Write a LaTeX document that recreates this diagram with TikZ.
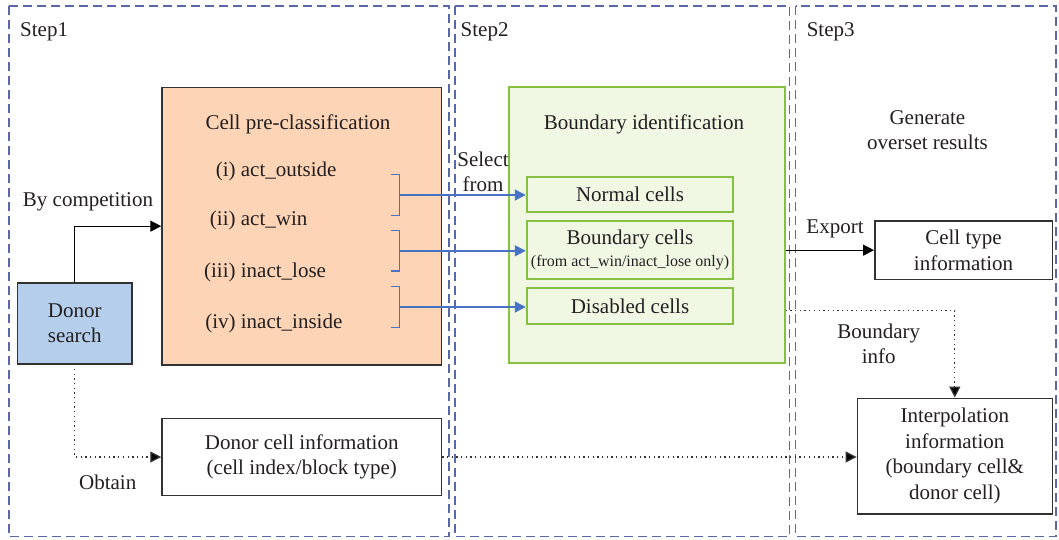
\documentclass[tikz,border=0pt]{standalone}
\usepackage{fontspec}
\setmainfont{Liberation Serif}
\usetikzlibrary{arrows.meta,calc}
\definecolor{frameblue}{RGB}{88,104,170}
\definecolor{peach}{RGB}{253,213,182}
\definecolor{donorblue}{RGB}{180,206,235}
\definecolor{greenfill}{RGB}{240,248,228}
\definecolor{greenline}{RGB}{134,192,64}
\definecolor{arrowblue}{RGB}{72,114,196}
\definecolor{boxline}{RGB}{50,50,50}
\definecolor{txt}{RGB}{35,31,32}
\begin{document}
\begin{tikzpicture}[x=1pt,y=-1pt,
  every node/.style={font=\fontsize{21}{25.5}\selectfont, text=txt, inner sep=0pt},
  stepframe/.style={draw=frameblue, line width=1.3pt, dash pattern=on 9pt off 5pt},
  plainbox/.style={draw=boxline, line width=1.5pt, fill=white, align=center},
  peachbox/.style={draw=boxline, line width=1.5pt, fill=peach},
  donorbox/.style={draw=boxline, line width=1.5pt, fill=donorblue, align=center},
  greenbox/.style={draw=greenline, line width=1.8pt, fill=greenfill, align=center},
  lbl/.style={align=center},
  blkarrow/.style={draw=black, line width=1.3pt, -{Triangle[length=11pt,width=11pt]}},
  dotline/.style={draw=boxline, line width=1.3pt, dash pattern=on 1.3pt off 3.4pt},
  dotarrow/.style={dotline, -{Triangle[length=11pt,width=11pt,fill=black]}},
  bluearrow/.style={draw=arrowblue, line width=1.4pt, -{Triangle[length=11pt,width=11pt]}},
  bracket/.style={draw=arrowblue, line width=1.4pt}
]
\useasboundingbox (0,0) rectangle (1059,539);
% step frames
\draw[stepframe] (9,6) rectangle (449,536.7);
\draw[stepframe] (455,6) rectangle (789.8,536.7);
\draw[stepframe] (795.5,6) rectangle (1056,536.7);
\node[anchor=west] (s1) at (20,32) {Step1};
\node[anchor=west] (s2) at (460.5,32) {Step2};
\node[anchor=west] (s3) at (806.6,32) {Step3};

% step 1
\node[peachbox, minimum width=279.5pt, minimum height=277.7pt] (pre) at (301.75,226.15) {};
\node (pretitle) at (298,124) {Cell pre-classification};
\node[anchor=west] (i1) at (240.7,171.7) {\llap{(i)\ }act\_outside};
\node[anchor=west] (i2) at (240.7,220.7) {\llap{(ii)\ }act\_win};
\node[anchor=west] (i3) at (240.7,272) {\llap{(iii)\ }inact\_lose};
\node[anchor=west] (i4) at (240.7,323.3) {\llap{(iv)\ }inact\_inside};

\node[donorbox, minimum width=114.2pt, minimum height=81.3pt] (donor) at (74.7,323.4) {Donor\\search};
\node[plainbox, minimum width=279.5pt, minimum height=77.4pt] (dinfo) at (301.75,457) {Donor cell information\\(cell index/block type)};
\node (bycomp) at (88,201.7) {By competition};
\node (obtain) at (107.7,482.3) {Obtain};

% step 2
\node[greenbox, minimum width=275.7pt, minimum height=276.6pt] (green) at (646.85,225) {};
\node (gtitle) at (644,124) {Boundary identification};
\node[greenbox, minimum width=206.7pt, minimum height=35.6pt] (normal) at (630,194.5) {Normal cells};
\node[greenbox, minimum width=206.7pt, minimum height=58pt] (bcells) at (630,250) {Boundary cells\\[-3pt]{\fontsize{16}{18}\selectfont(from act\_win/inact\_lose only)}};
\node[greenbox, minimum width=206.7pt, minimum height=36pt] (disabled) at (630,306.3) {Disabled cells};
\node[lbl] (select) at (483,172) {Select\\from};

% step 3
\node[lbl] (gen) at (927.4,130) {Generate\\overset results};
\node[plainbox, minimum width=177.5pt, minimum height=58.3pt] (ctype) at (963.5,250.15) {Cell type\\information};
\node[plainbox, minimum width=195pt, minimum height=115.7pt] (interp) at (954.8,456.15) {Interpolation\\information\\(boundary cell\&\\donor cell)};
\node (export) at (835,229.3) {Export};
\node[lbl] (binfo) at (878.7,344) {Boundary\\info};

% brackets
\coordinate (b1) at (399.3,195);
\coordinate (b2) at (399.3,250.8);
\coordinate (b3) at (399.3,307);
\draw[bracket] (390.7,174.7) -- (399.3,174.7) -- (399.3,215.3) -- (390.7,215.3);
\draw[bracket] (390.7,230.7) -- (399.3,230.7) -- (399.3,271) -- (390.7,271);
\draw[bracket] (390.7,286.7) -- (399.3,286.7) -- (399.3,327.7) -- (390.7,327.7);
\draw[bluearrow] (b1) -- (b1 -| normal.west);
\draw[bluearrow] (b2) -- (b2 -| bcells.west);
\draw[bluearrow] (b3) -- (b3 -| disabled.west);

% connectors
\draw[blkarrow] (donor.north) |- (pre.west);
\draw[dotarrow, shorten <=4pt] (donor.south) |- (dinfo.west);
\draw[dotarrow] (dinfo.east) -- (dinfo.east -| interp.west);
\draw[blkarrow] (green.east |- ctype.west) -- (ctype.west);
\draw[dotarrow] ([yshift=-85.7pt]green.east) -| (interp.north);
\end{tikzpicture}
\end{document}
